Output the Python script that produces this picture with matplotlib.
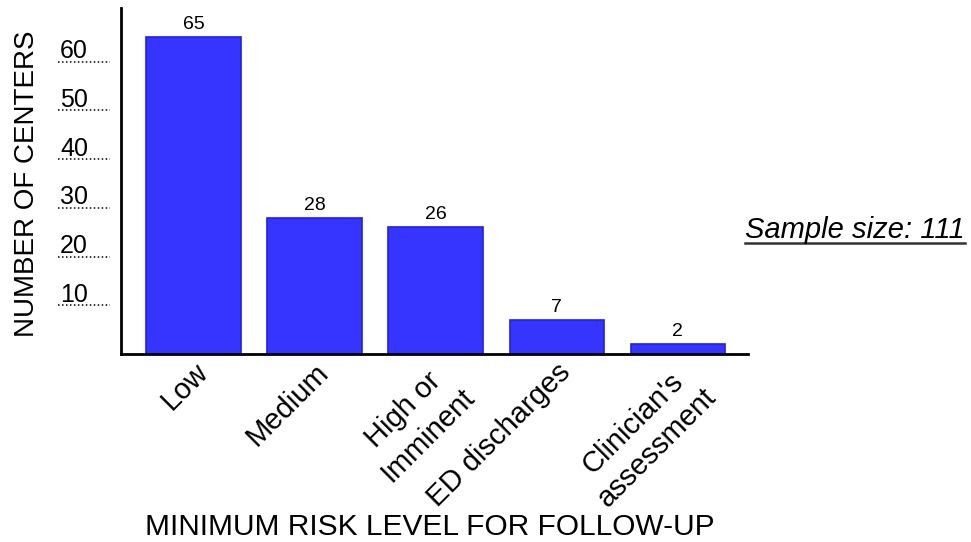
import matplotlib.pyplot as plt

plt.rcParams['font.family'] = ['Liberation Sans', 'DejaVu Sans']

categories = ['Low', 'Medium', 'High or\nImminent', 'ED discharges', "Clinician's\nassessment"]
counts = [65, 28, 26, 7, 2]
yticks = [10, 20, 30, 40, 50, 60]
sample_size = 111

fig = plt.figure(figsize=(9.71, 5.42), dpi=100)
ax = fig.add_axes([0.1246, 0.3469, 0.6457, 0.6384])

x = range(len(categories))
bars = ax.bar(x, counts, width=0.78, color='#3535ff', edgecolor='#2020e6', linewidth=1.2)
for xi, c in zip(x, counts):
    ax.text(xi, c + 0.8, str(c), ha='center', va='bottom', fontsize=14)

ax.set_xlim(-0.6, 4.58)
ax.set_ylim(0, 71)
for s in ['top', 'right']:
    ax.spines[s].set_visible(False)
for s in ['left', 'bottom']:
    ax.spines[s].set_linewidth(2)
    ax.spines[s].set_color('black')

ax.set_yticks([])
tr = ax.get_yaxis_transform()
for v in yticks:
    ax.text(-0.097, v - 0.3, str(v), transform=tr, ha='left', va='bottom', fontsize=18)
    ax.plot([-0.100, -0.0175], [v, v], transform=tr, color='black', lw=1.1,
            linestyle=(0, (1, 1.6)), clip_on=False)

ax.set_xticks(list(x))
ax.set_xticklabels(categories, rotation=45, ha='right', va='top',
                   rotation_mode='anchor', multialignment='center', fontsize=21,
                   linespacing=1.3)
ax.tick_params(axis='x', length=0, pad=3)

fig.text(27 / 971, 1 - 184 / 542, 'NUMBER OF CENTERS', rotation=90,
         ha='center', va='center', fontsize=20)
fig.text(430 / 971, 1 - 527 / 542, 'MINIMUM RISK LEVEL FOR FOLLOW-UP',
         ha='center', va='center', fontsize=21.5)

st = fig.text(965 / 971, 1 - 230 / 542, 'Sample size: %d' % sample_size,
              ha='right', va='center', fontsize=21, style='italic')
fig.canvas.draw()
bb = st.get_window_extent().transformed(fig.transFigure.inverted())
fig.lines.append(plt.Line2D([bb.x0, bb.x1], [bb.y0 + 0.002, bb.y0 + 0.002],
                            transform=fig.transFigure, color='#333333', lw=1.8))

fig.savefig('out.png', dpi=100)
